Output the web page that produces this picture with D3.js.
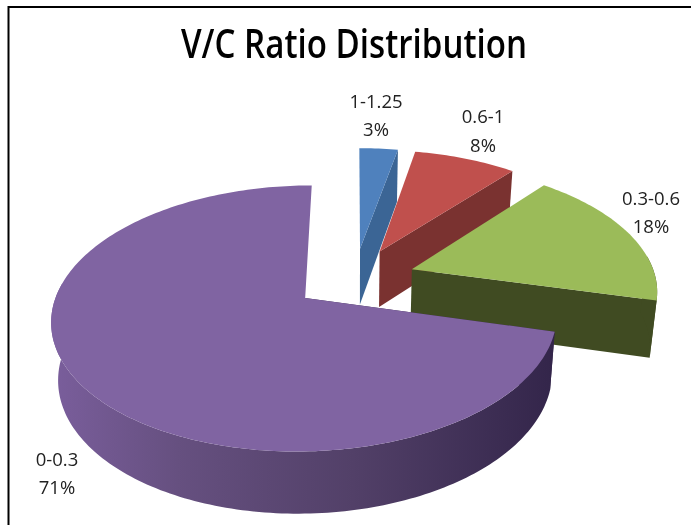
<!DOCTYPE html>
<html><head><meta charset="utf-8">
<script src="https://cdn.jsdelivr.net/npm/d3@7"></script>
<style>html,body{margin:0;padding:0;background:#fff}svg{display:block;filter:blur(0.4px)}</style>
</head><body><svg id="c" width="691" height="525"></svg>
<script>
const title = "V/C Ratio Distribution";
const categories = ["1-1.25", "0.6-1", "0.3-0.6", "0-0.3"];
const values = [3, 8, 18, 71];
const topColors = ["#4f81bd", "#c0504d", "#9bbb59", "#8064a2"];
const sideColors = ["#3b6595", "#7a3230", "#404b22", "#35274a"];

const W = 691, H = 525;
const cx = 354.5, cy = 278.6, Rx = 244, Ry = 124, persp = 0.15, explode = 0.25;
const labelAt = [[376, 108, 136], [483, 123, 152], [651, 205, 233], [57, 466, 494]];

const svg = d3.select("#c");
const defs = svg.append("defs");
const grad = defs.append("linearGradient").attr("id", "wall")
  .attr("gradientUnits", "userSpaceOnUse").attr("x1", 51).attr("x2", 555).attr("y1", 0).attr("y2", 0);
[[0, "#7a5e9c"], [0.25, "#665080"], [0.6, "#524068"], [1, "#33254a"]].forEach(s =>
  grad.append("stop").attr("offset", s[0]).attr("stop-color", s[1]));

svg.append("rect").attr("x", 8.5).attr("y", 7).attr("width", 690).attr("height", 530)
  .attr("fill", "#fff").attr("stroke", "#000").attr("stroke-width", 2);

const sx = d3.scaleLinear().domain([0, 1]).range([cx, cx + Rx]);
const sy = d3.scaleLinear().domain([0, 1]).range([cy, cy + Ry]);
const wOf = Y => 1 / (1 - persp * Y);
function proj(X, Y) { const w = wOf(Y); return [sx(X * w), sy(Y * w)]; }
function projLow(X, Y) {
  const w = wOf(Y), p = proj(X, Y);
  return [cx + (p[0] - cx) * 0.977, p[1] + 29.5 + 27 * w];
}
const line = d3.line();
const pie = d3.pie().sort(null).value(d => d)(values);

pie.forEach((s, i) => {
  const mid = (s.startAngle + s.endAngle) / 2;
  const ox = explode * Math.sin(mid), oy = -explode * Math.cos(mid);
  const n = Math.max(2, Math.ceil((s.endAngle - s.startAngle) / 0.02));
  const angles = d3.range(n + 1).map(k => s.startAngle + (s.endAngle - s.startAngle) * k / n);
  const pt = a => [ox + Math.sin(a), oy - Math.cos(a)];
  const rim = angles.map(pt);
  const front = angles.filter(a => Math.cos(a) < 0.12).map(pt);
  const g = svg.append("g").attr("class", "slice");
  const P = q => proj(q[0], q[1]), L = q => projLow(q[0], q[1]);
  const apex = [ox, oy];
  const cut = q => g.append("path")
    .attr("d", line([P(apex), P(q), L(q), L(apex)]) + "Z").attr("fill", sideColors[i]);
  cut(rim[i === 3 ? 0 : n]);
  if (front.length > 1) g.append("path")
    .attr("d", line(front.map(P).concat(front.slice().reverse().map(L))) + "Z")
    .attr("fill", i === 3 ? "url(#wall)" : sideColors[i]);
  g.append("path")
    .attr("d", line([P(apex)].concat(rim.map(P))) + "Z")
    .attr("fill", topColors[i]);
});

svg.append("text").attr("x", 354).attr("y", 58).attr("text-anchor", "middle")
  .attr("font-family", "Open Sans").attr("font-weight", 600).attr("font-size", 39)
  .attr("textLength", 346).attr("lengthAdjust", "spacingAndGlyphs").attr("fill", "#000").text(title);

categories.forEach((c, i) => {
  const t = svg.append("g").attr("font-family", "Open Sans").attr("font-size", 18.5)
    .attr("fill", "#222").attr("text-anchor", "middle");
  t.append("text").attr("x", labelAt[i][0]).attr("y", labelAt[i][1]).text(c);
  t.append("text").attr("x", labelAt[i][0]).attr("y", labelAt[i][2]).text(d3.format(".0%")(values[i] / d3.sum(values)));
});
</script></body></html>
